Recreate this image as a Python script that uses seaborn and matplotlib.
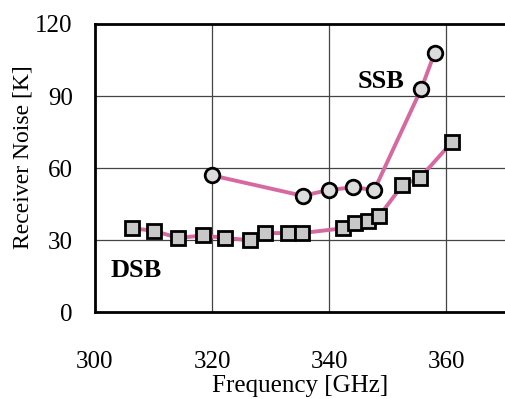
import matplotlib
matplotlib.use("Agg")
import matplotlib.pyplot as plt
import seaborn as sns
import pandas as pd

# Data
ssb_freq = [320.0, 335.5, 340.0, 344.0, 347.7, 355.7, 358.0]
ssb_noise = [57, 48.5, 51, 52, 51, 93, 108]

dsb_freq = [306.3, 310.0, 314.2, 318.5, 322.2, 326.5, 329.0, 333.0, 335.3,
            342.4, 344.4, 346.6, 348.5, 352.5, 355.5, 361.0]
dsb_noise = [35, 34, 31, 32, 31, 30, 33, 33, 33,
             35, 37, 38, 40, 53, 56, 71]

x_ticks = [300, 320, 340, 360]
y_ticks = [0, 30, 60, 90, 120]

sns.set_theme(style="white")
plt.rcParams['font.family'] = ['Liberation Serif', 'DejaVu Serif']
plt.rcParams['text.color'] = 'black'
plt.rcParams['axes.labelcolor'] = 'black'
plt.rcParams['xtick.color'] = 'black'
plt.rcParams['ytick.color'] = 'black'

fig = plt.figure(figsize=(5.05, 3.99), dpi=100)
ax = fig.add_axes([0.188, 0.217, 0.812, 0.723])

line_color = "#d66aa0"
ssb = pd.DataFrame({"freq": ssb_freq, "noise": ssb_noise})
dsb = pd.DataFrame({"freq": dsb_freq, "noise": dsb_noise})

sns.lineplot(data=ssb, x="freq", y="noise", ax=ax, color=line_color, lw=2.8,
             marker="o", markersize=10.5, markerfacecolor="#dcdcdc",
             markeredgecolor="black", markeredgewidth=2)
sns.lineplot(data=dsb, x="freq", y="noise", ax=ax, color=line_color, lw=2.8,
             marker="s", markersize=9.5, markerfacecolor="#c8c8c8",
             markeredgecolor="black", markeredgewidth=2)

ax.set_xlim(300, 370)
ax.set_ylim(0, 120)
ax.set_xticks(x_ticks)
ax.set_yticks(y_ticks)
ax.tick_params(axis="both", labelsize=18, length=0)
ax.tick_params(axis="x", pad=28)
ax.tick_params(axis="y", pad=16)
ax.set_xlabel("Frequency [GHz]", fontsize=18, labelpad=1)
ax.set_ylabel("Receiver Noise [K]", fontsize=17)
# label sits a little above the axes centre in the original
ax.yaxis.set_label_coords(-0.15, 0.54)

# grid: interior lines only
for v in [320, 340, 360]:
    ax.axvline(v, color="#444444", lw=0.9, zorder=0)
for v in [30, 60, 90]:
    ax.axhline(v, color="#444444", lw=0.9, zorder=0)

for s in ["left", "top", "bottom"]:
    ax.spines[s].set_color("black")
    ax.spines[s].set_linewidth(2)
ax.spines["right"].set_visible(False)

ax.text(348.8, 96, "SSB", fontsize=19, fontweight="bold", ha="center", va="center")
ax.text(307, 17.5, "DSB", fontsize=19, fontweight="bold", ha="center", va="center")

fig.savefig("out.png", dpi=100)
